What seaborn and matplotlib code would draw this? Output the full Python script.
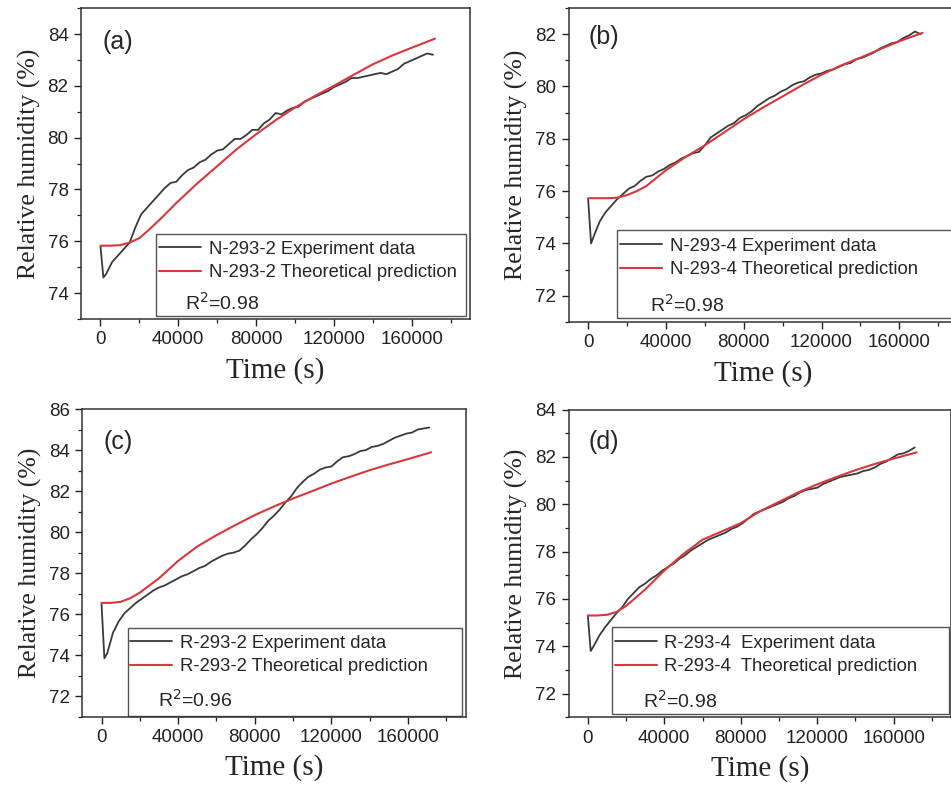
import pandas as pd
import seaborn as sns
import matplotlib.pyplot as plt
from matplotlib.patches import Rectangle
from matplotlib.ticker import MultipleLocator

sns.set_style('ticks')
plt.rcParams['font.family'] = ['Liberation Sans', 'DejaVu Sans']

# time grids (s)
t_exp = [0, 1500, 3000, 6000, 9000, 12000, 15000, 18000, 21000, 24000, 27000, 30000,
         33000, 36000, 39000, 42000, 45000, 48000, 51000, 54000, 57000, 60000, 63000,
         66000, 69000, 72000, 75000, 78000, 81000, 84000, 87000, 90000, 93000, 96000,
         99000, 102000, 105000, 108000, 111000, 114000, 117000, 120000, 123000, 126000,
         129000, 132000, 135000, 138000, 141000, 144000, 147000, 150000, 153000, 156000,
         159000, 162000, 165000, 168000, 171000]
t_fit = [0, 5000, 10000, 15000, 20000, 25000, 30000, 40000, 50000, 60000, 70000, 80000,
         90000, 100000, 110000, 120000, 130000, 140000, 150000, 160000, 172000]

# (a) N-293-2
a_exp = [75.8, 74.6, 74.75, 75.2, 75.45, 75.7, 75.95, 76.55, 77.05, 77.3, 77.55, 77.8,
         78.05, 78.25, 78.3, 78.55, 78.75, 78.85, 79.05, 79.15, 79.35, 79.5, 79.55,
         79.75, 79.95, 79.95, 80.1, 80.3, 80.3, 80.55, 80.7, 80.95, 80.9, 81.05,
         81.15, 81.2, 81.4, 81.5, 81.6, 81.7, 81.8, 81.95, 82.05, 82.15,
         82.3, 82.3, 82.35, 82.4, 82.45, 82.5, 82.45, 82.55, 82.65, 82.85,
         82.95, 83.05, 83.15, 83.25, 83.2]
a_fit = [75.83, 75.83, 75.85, 75.95, 76.12, 76.45, 76.8, 77.55, 78.25, 78.9, 79.55, 80.13,
         80.67, 81.16, 81.6, 82.0, 82.42, 82.83, 83.17, 83.47, 83.82]

# (b) N-293-4
b_exp = [75.7, 74.0, 74.3, 74.85, 75.2, 75.45, 75.7, 75.9, 76.1, 76.2, 76.4, 76.55,
         76.6, 76.75, 76.85, 77.0, 77.1, 77.25, 77.35, 77.45, 77.5, 77.75, 78.05,
         78.2, 78.35, 78.5, 78.6, 78.8, 78.9, 79.05, 79.25, 79.4, 79.55, 79.65,
         79.8, 79.9, 80.05, 80.15, 80.2, 80.35, 80.45, 80.5, 80.6, 80.65,
         80.75, 80.85, 80.9, 81.05, 81.1, 81.2, 81.3, 81.45, 81.55, 81.65,
         81.7, 81.85, 81.95, 82.1, 82.0]
b_fit = [75.73, 75.73, 75.73, 75.75, 75.85, 76.0, 76.2, 76.8, 77.3, 77.75, 78.25, 78.75,
         79.2, 79.62, 80.05, 80.45, 80.8, 81.1, 81.42, 81.73, 82.05]

# (c) R-293-2
c_exp = [76.5, 73.85, 74.1, 75.1, 75.65, 76.05, 76.3, 76.55, 76.75, 76.95, 77.15, 77.3,
         77.4, 77.55, 77.7, 77.85, 77.95, 78.1, 78.25, 78.35, 78.55, 78.7, 78.85,
         78.95, 79.0, 79.1, 79.35, 79.65, 79.9, 80.2, 80.55, 80.8, 81.1, 81.45,
         81.75, 82.15, 82.45, 82.7, 82.85, 83.05, 83.15, 83.2, 83.45, 83.65,
         83.7, 83.8, 83.95, 84.0, 84.15, 84.2, 84.3, 84.45, 84.6, 84.7,
         84.8, 84.85, 85.0, 85.05, 85.1]
c_fit = [76.55, 76.55, 76.6, 76.78, 77.05, 77.4, 77.75, 78.6, 79.3, 79.85, 80.35, 80.83,
         81.25, 81.64, 82.0, 82.37, 82.7, 83.02, 83.3, 83.56, 83.89]

# (d) R-293-4
d_exp = [75.3, 73.8, 74.0, 74.45, 74.8, 75.1, 75.4, 75.65, 76.0, 76.25, 76.5, 76.65,
         76.85, 77.0, 77.2, 77.35, 77.5, 77.7, 77.85, 78.05, 78.2, 78.35, 78.5,
         78.6, 78.7, 78.8, 78.95, 79.05, 79.2, 79.4, 79.6, 79.7, 79.8, 79.9,
         80.0, 80.1, 80.25, 80.35, 80.5, 80.6, 80.65, 80.7, 80.85, 80.95,
         81.05, 81.15, 81.2, 81.25, 81.3, 81.4, 81.45, 81.55, 81.7, 81.8,
         81.95, 82.1, 82.15, 82.25, 82.4]
d_fit = [75.3, 75.3, 75.33, 75.45, 75.7, 76.05, 76.4, 77.2, 77.9, 78.5, 78.85, 79.2,
         79.7, 80.1, 80.5, 80.84, 81.15, 81.44, 81.7, 81.93, 82.19]

EXP_COLOR = '#3a3a3a'
FIT_COLOR = '#d8373c'

panels = [
    dict(tag='(a)', exp=a_exp, fit=a_fit, ylim=(73, 85),
         exp_label='N-293-2 Experiment data', fit_label='N-293-2 Theoretical prediction',
         r2='0.98', rect=[0.0852, 0.5957, 0.409, 0.394], tag_xy=(0.095, 0.89),
         box=(0.193, 0.01, 0.797, 0.263), leg_xy=(0.20, 0.252), r2_xy=(0.267, 0.051)),
    dict(tag='(b)', exp=b_exp, fit=b_fit, ylim=(71, 83),
         exp_label='N-293-4 Experiment data', fit_label='N-293-4 Theoretical prediction',
         r2='0.98', rect=[0.598, 0.5919, 0.409, 0.398], tag_xy=(0.09, 0.909),
         box=(0.125, 0.013, 0.87, 0.28), leg_xy=(0.131, 0.269), r2_xy=(0.208, 0.054)),
    dict(tag='(c)', exp=c_exp, fit=c_fit, ylim=(71, 86),
         exp_label='R-293-2 Experiment data', fit_label='R-293-2 Theoretical prediction',
         r2='0.96', rect=[0.0866, 0.0916, 0.403, 0.390], tag_xy=(0.094, 0.894),
         box=(0.118, 0.003, 0.872, 0.285), leg_xy=(0.124, 0.266), r2_xy=(0.197, 0.054)),
    dict(tag='(d)', exp=d_exp, fit=d_fit, ylim=(71, 84),
         exp_label='R-293-4  Experiment data', fit_label='R-293-4  Theoretical prediction',
         r2='0.98', rect=[0.598, 0.0909, 0.402, 0.390], tag_xy=(0.092, 0.895),
         box=(0.113, 0.01, 0.882, 0.282), leg_xy=(0.12, 0.269), r2_xy=(0.195, 0.054)),
]

fig = plt.figure(figsize=(9.51, 7.89), dpi=100)

for p in panels:
    ax = fig.add_axes(p['rect'])
    sns.lineplot(x=t_exp, y=p['exp'], ax=ax, color=EXP_COLOR, lw=1.3, label=p['exp_label'])
    sns.lineplot(x=t_fit, y=p['fit'], ax=ax, color=FIT_COLOR, lw=1.5, label=p['fit_label'])

    ax.set_xlim(-10000, 190000)
    ax.set_ylim(*p['ylim'])
    ax.set_xticks([0, 40000, 80000, 120000, 160000])
    ax.xaxis.set_minor_locator(MultipleLocator(20000))
    ax.yaxis.set_major_locator(MultipleLocator(2))
    ax.yaxis.set_minor_locator(MultipleLocator(1))
    ax.tick_params(which='major', direction='out', length=5, width=1, labelsize=13.5,
                   colors='#222', pad=4)
    ax.tick_params(which='minor', direction='out', length=3, width=0.9, colors='#222')
    for s in ax.spines.values():
        s.set_color('#333')
        s.set_linewidth(1.1)

    ax.set_xlabel('Time (s)', family='Liberation Serif', fontsize=21, labelpad=6)
    ax.set_ylabel('Relative humidity (%)', family='Liberation Serif', fontsize=18.5, labelpad=5)

    ax.text(*p['tag_xy'], p['tag'], transform=ax.transAxes, ha='center', va='center', fontsize=18)

    handles, labels = ax.get_legend_handles_labels()
    ax.legend(handles, labels, loc='upper left', bbox_to_anchor=p['leg_xy'], frameon=False,
              borderpad=0, borderaxespad=0, handlelength=2.3, handletextpad=0.4,
              labelspacing=0.35, fontsize=13.3)
    bx, by, bw, bh = p['box']
    ax.add_patch(Rectangle((bx, by), bw, bh, transform=ax.transAxes, fill=False,
                           ec='#555', lw=1, clip_on=False))
    ax.text(*p['r2_xy'], 'R$^2$=' + p['r2'], transform=ax.transAxes, ha='left',
            va='center', fontsize=14)

fig.savefig('out.png', dpi=100)
